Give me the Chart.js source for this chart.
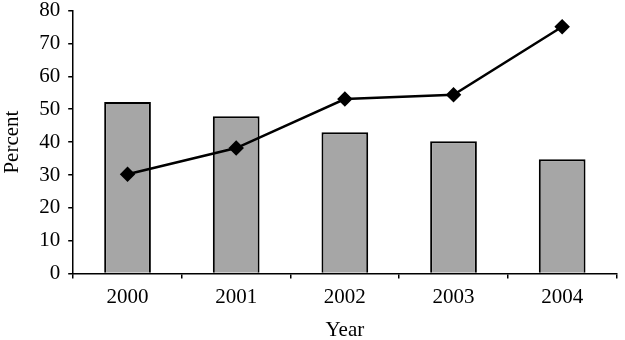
<!DOCTYPE html>
<html>
<head>
<meta charset="utf-8">
<script src="https://cdn.jsdelivr.net/npm/chart.js@4/dist/chart.umd.min.js"></script>
<style>
html,body{margin:0;padding:0;background:#fff;}
#wrap{width:625px;height:340px;}
</style>
</head>
<body>
<div id="wrap"><canvas id="c" width="625" height="340"></canvas></div>
<script>
const years = ['2000','2001','2002','2003','2004'];
const barValues = [52.2, 47.9, 43.0, 40.3, 34.8];
const lineValues = [30.2, 38.2, 53.1, 54.4, 75.1];
const yTicks = [0,10,20,30,40,50,60,70,80];

Chart.defaults.font.family = "'Liberation Serif', 'Times New Roman', serif";
Chart.defaults.font.size = 21;
Chart.defaults.color = '#000';

new Chart(document.getElementById('c'), {
  data: {
    labels: years,
    datasets: [
      {
        type: 'line',
        data: lineValues,
        borderColor: '#000',
        backgroundColor: '#000',
        borderWidth: 2.5,
        pointStyle: 'rectRot',
        pointRadius: 6,
        pointHoverRadius: 6,
        tension: 0,
        order: 0
      },
      {
        type: 'bar',
        data: barValues,
        backgroundColor: '#a6a6a6',
        borderColor: '#000',
        borderWidth: 2,
        categoryPercentage: 1,
        barPercentage: 0.43,
        order: 1
      }
    ]
  },
  options: {
    responsive: false,
    animation: false,
    layout: { padding: { top: 0, right: 2, left: 0, bottom: -3 } },
    plugins: { legend: { display: false }, tooltip: { enabled: false } },
    scales: {
      x: {
        offset: true,
        grid: { offset: true, drawOnChartArea: false, drawTicks: true, tickLength: 5, color: '#000', lineWidth: 1.5 },
        border: { display: true, color: '#000', width: 1.5 },
        ticks: { padding: 6, color: '#000', font: { size: 21 } },
        title: { display: true, text: 'Year', padding: { top: 2, bottom: 0 }, color: '#000', font: { size: 21 } }
      },
      y: {
        min: 0,
        max: 80,
        afterBuildTicks: (s) => { s.ticks = yTicks.map(v => ({ value: v })); },
        grid: { drawOnChartArea: false, drawTicks: true, tickLength: 5, color: '#000', lineWidth: 1.5 },
        border: { display: true, color: '#000', width: 1.5 },
        ticks: { padding: 8, color: '#000', font: { size: 21, lineHeight: 0.25 } },
        title: { display: true, text: 'Percent', padding: { top: 0, bottom: 6 }, color: '#000', font: { size: 21 } }
      }
    }
  }
});
</script>
</body>
</html>
